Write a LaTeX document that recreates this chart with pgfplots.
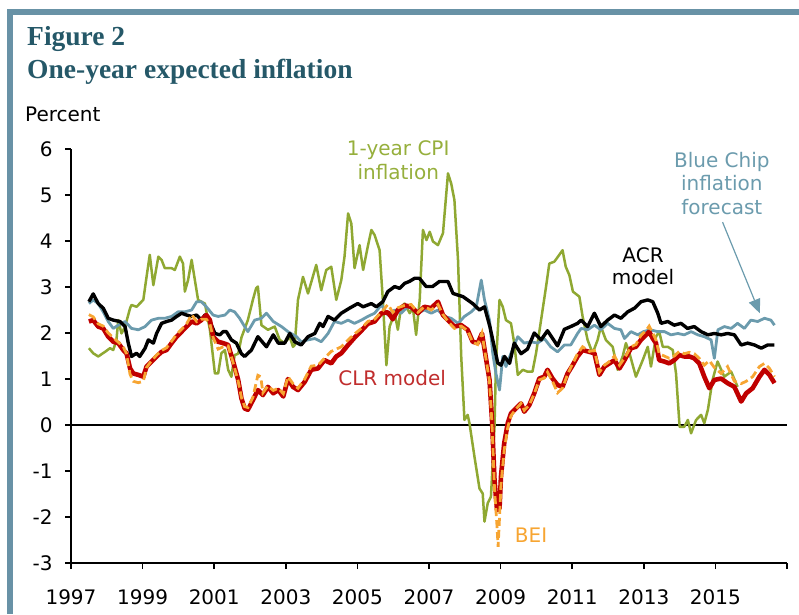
\documentclass[border=0pt]{standalone}
\usepackage{fontspec}
\usepackage{pgfplots}
\pgfplotsset{compat=1.18}
\usetikzlibrary{arrows.meta}
\setmainfont{DejaVu Sans}
\newfontfamily\titlefont{Liberation Serif}
\definecolor{framecol}{RGB}{104,146,166}
\definecolor{titlecol}{RGB}{37,88,104}
\definecolor{cpicol}{RGB}{143,168,50}
\definecolor{cpitext}{RGB}{150,175,60}
\definecolor{bccol}{RGB}{107,155,173}
\definecolor{clrcol}{RGB}{192,0,0}
\definecolor{clrtext}{RGB}{192,45,45}
\definecolor{beicol}{RGB}{247,165,50}

\pgfplotstableread{
year val
1997.50 2.68
1997.62 2.85
1997.76 2.64
1997.90 2.54
1998.04 2.32
1998.18 2.28
1998.37 2.25
1998.51 2.14
1998.60 1.78
1998.69 1.49
1998.83 1.56
1998.92 1.49
1999.07 1.67
1999.16 1.85
1999.30 1.78
1999.39 1.99
1999.53 2.21
1999.67 2.25
1999.81 2.28
1999.95 2.36
2000.09 2.43
2000.23 2.39
2000.37 2.36
2000.51 2.39
2000.64 2.28
2000.74 2.39
2000.88 2.25
2001.02 1.99
2001.16 1.96
2001.25 2.03
2001.34 2.03
2001.48 1.85
2001.62 1.78
2001.76 1.55
2001.85 1.49
2002.04 1.63
2002.22 1.92
2002.46 1.70
2002.65 1.96
2002.79 1.78
2002.97 1.78
2003.11 1.99
2003.25 1.81
2003.43 1.74
2003.62 1.92
2003.81 1.99
2003.95 2.21
2004.04 2.14
2004.18 2.36
2004.36 2.28
2004.55 2.43
2004.78 2.54
2005.01 2.64
2005.16 2.57
2005.39 2.64
2005.53 2.57
2005.71 2.68
2005.85 2.90
2006.04 3.01
2006.18 2.97
2006.32 3.08
2006.45 3.12
2006.60 3.19
2006.73 3.19
2006.92 3.01
2007.10 3.01
2007.29 3.12
2007.53 3.12
2007.67 2.86
2007.95 2.79
2008.22 2.64
2008.41 2.50
2008.55 2.57
2008.70 2.14
2008.85 1.60
2008.92 1.35
2009.01 1.30
2009.11 1.49
2009.25 1.34
2009.38 1.78
2009.57 1.55
2009.75 1.65
2009.94 2.00
2010.13 1.85
2010.31 2.05
2010.59 1.72
2010.78 2.08
2010.96 2.14
2011.15 2.21
2011.25 2.28
2011.43 2.14
2011.62 2.43
2011.80 2.14
2011.99 2.28
2012.18 2.39
2012.36 2.32
2012.55 2.46
2012.74 2.54
2012.92 2.68
2013.11 2.72
2013.25 2.68
2013.39 2.43
2013.48 2.21
2013.67 2.25
2013.85 2.17
2014.04 2.21
2014.22 2.10
2014.41 2.14
2014.60 2.03
2014.79 1.96
2014.97 1.99
2015.16 1.96
2015.34 1.99
2015.53 1.96
2015.72 1.74
2015.90 1.78
2016.09 1.74
2016.28 1.67
2016.46 1.74
2016.65 1.74
}\acr

\pgfplotstableread{
year val
1997.50 2.64
1997.62 2.72
1997.76 2.64
1997.90 2.46
1998.04 2.25
1998.18 2.10
1998.32 2.17
1998.51 2.25
1998.69 2.10
1998.88 2.07
1999.07 2.14
1999.25 2.28
1999.44 2.32
1999.62 2.32
1999.81 2.36
1999.99 2.46
2000.18 2.46
2000.37 2.50
2000.51 2.68
2000.64 2.68
2000.78 2.57
2000.97 2.39
2001.11 2.36
2001.30 2.39
2001.44 2.50
2001.57 2.46
2001.71 2.32
2001.85 2.14
2001.94 2.03
2002.13 2.28
2002.32 2.32
2002.46 2.43
2002.65 2.25
2002.88 2.14
2003.06 2.03
2003.30 1.92
2003.43 1.81
2003.62 1.85
2003.81 1.88
2003.99 1.81
2004.18 1.99
2004.36 2.25
2004.55 2.21
2004.74 2.28
2004.92 2.21
2005.11 2.28
2005.29 2.36
2005.48 2.43
2005.67 2.61
2005.85 2.39
2006.04 2.50
2006.22 2.43
2006.41 2.57
2006.59 2.50
2006.69 2.43
2006.87 2.50
2007.06 2.43
2007.25 2.50
2007.43 2.36
2007.62 2.32
2007.81 2.21
2007.99 2.36
2008.18 2.46
2008.32 2.57
2008.46 3.15
2008.55 2.72
2008.69 2.28
2008.78 1.56
2008.87 1.12
2008.97 0.76
2009.06 1.49
2009.15 1.27
2009.29 1.56
2009.48 1.92
2009.66 1.78
2009.85 1.81
2010.03 1.78
2010.22 1.88
2010.40 1.70
2010.59 1.59
2010.78 1.74
2010.96 1.74
2011.15 1.99
2011.25 2.10
2011.43 2.07
2011.62 2.17
2011.80 2.07
2011.99 2.21
2012.18 2.10
2012.36 2.07
2012.46 1.88
2012.64 2.03
2012.83 1.96
2012.99 2.03
2013.18 2.07
2013.39 2.03
2013.58 2.03
2013.76 1.96
2013.95 1.99
2014.13 1.96
2014.32 2.03
2014.51 1.96
2014.69 1.92
2014.88 1.85
2014.97 1.45
2015.07 2.07
2015.25 2.14
2015.44 2.10
2015.62 2.21
2015.81 2.10
2015.99 2.28
2016.18 2.25
2016.37 2.32
2016.55 2.28
2016.65 2.17
}\bluechip

\pgfplotstableread{
year val
1997.50 1.67
1997.62 1.56
1997.76 1.49
1997.95 1.59
1998.09 1.67
1998.18 1.63
1998.27 1.85
1998.32 2.28
1998.41 1.99
1998.51 2.14
1998.65 2.54
1998.69 2.61
1998.83 2.57
1999.02 2.72
1999.11 3.22
1999.20 3.70
1999.30 3.04
1999.44 3.66
1999.53 3.59
1999.62 3.41
1999.81 3.41
1999.90 3.37
2000.04 3.66
2000.13 3.51
2000.18 2.90
2000.27 3.15
2000.37 3.59
2000.46 3.15
2000.55 2.72
2000.64 2.68
2000.74 2.64
2000.88 2.07
2001.02 1.12
2001.11 1.12
2001.20 1.56
2001.30 1.63
2001.39 1.20
2001.48 1.05
2001.57 1.52
2001.67 1.55
2001.76 1.90
2001.94 2.28
2002.08 2.72
2002.17 2.97
2002.22 3.01
2002.32 2.17
2002.50 2.07
2002.69 2.14
2002.83 1.85
2002.97 1.78
2003.11 1.92
2003.20 1.70
2003.25 1.74
2003.34 2.72
2003.48 3.22
2003.62 2.86
2003.85 3.48
2003.99 2.93
2004.13 3.37
2004.27 3.44
2004.41 2.72
2004.55 3.15
2004.64 3.66
2004.74 4.60
2004.83 4.38
2004.92 3.41
2005.06 3.91
2005.16 3.37
2005.29 3.88
2005.39 4.24
2005.48 4.13
2005.62 3.80
2005.71 2.72
2005.81 1.30
2005.90 2.14
2006.04 2.43
2006.13 2.07
2006.22 2.57
2006.32 2.64
2006.46 2.43
2006.55 2.55
2006.64 1.96
2006.74 2.72
2006.83 4.24
2006.93 4.02
2007.02 4.20
2007.11 3.99
2007.25 3.91
2007.39 4.17
2007.53 5.47
2007.62 5.25
2007.71 4.89
2007.81 3.59
2007.90 1.49
2007.99 0.11
2008.08 0.22
2008.13 0.04
2008.27 -0.69
2008.41 -1.38
2008.50 -1.49
2008.55 -2.10
2008.64 -1.70
2008.73 -1.56
2008.83 -0.04
2008.87 1.34
2008.97 2.72
2009.06 2.57
2009.15 2.28
2009.29 2.21
2009.38 1.78
2009.48 1.09
2009.62 1.20
2009.75 1.16
2009.89 1.16
2009.99 1.56
2010.13 2.28
2010.27 3.01
2010.36 3.51
2010.50 3.55
2010.64 3.70
2010.73 3.80
2010.82 3.44
2010.92 3.26
2011.02 2.90
2011.20 2.79
2011.29 2.36
2011.43 1.85
2011.57 1.56
2011.71 1.85
2011.80 2.14
2011.94 1.85
2012.13 1.70
2012.27 1.20
2012.41 1.49
2012.50 1.78
2012.60 1.56
2012.78 1.05
2012.97 1.41
2013.11 1.70
2013.20 1.27
2013.34 1.92
2013.43 2.03
2013.53 1.70
2013.67 1.70
2013.81 1.63
2013.90 1.12
2014.00 -0.04
2014.13 -0.04
2014.23 0.11
2014.32 -0.18
2014.46 0.11
2014.60 0.22
2014.69 0.04
2014.79 0.33
2014.92 0.98
2015.06 1.38
2015.25 1.05
2015.44 1.16
2015.62 0.83
}\cpi

\pgfplotstableread{
year val
1997.50 2.25
1997.62 2.28
1997.76 2.14
1997.90 2.10
1998.04 1.92
1998.18 1.81
1998.32 1.78
1998.46 1.63
1998.55 1.56
1998.65 1.23
1998.74 1.12
1998.88 1.09
1999.02 1.05
1999.11 1.27
1999.25 1.38
1999.39 1.49
1999.53 1.59
1999.67 1.63
1999.81 1.78
1999.95 1.92
2000.09 2.03
2000.23 2.14
2000.37 2.25
2000.51 2.21
2000.64 2.28
2000.78 2.39
2000.88 2.28
2000.97 1.92
2001.11 1.81
2001.25 1.78
2001.39 1.74
2001.53 1.38
2001.67 0.98
2001.76 0.58
2001.85 0.36
2001.94 0.33
2002.08 0.54
2002.22 0.76
2002.36 0.65
2002.50 0.83
2002.65 0.69
2002.79 0.76
2002.93 0.62
2003.06 1.00
2003.20 0.83
2003.34 0.76
2003.53 0.94
2003.71 1.20
2003.90 1.23
2004.08 1.41
2004.27 1.34
2004.41 1.49
2004.55 1.56
2004.74 1.74
2004.92 1.90
2005.11 2.05
2005.29 2.20
2005.48 2.25
2005.67 2.43
2005.85 2.45
2005.99 2.30
2006.13 2.50
2006.32 2.60
2006.50 2.57
2006.69 2.43
2006.87 2.57
2007.06 2.54
2007.25 2.68
2007.39 2.39
2007.53 2.28
2007.71 2.14
2007.90 2.17
2008.08 2.07
2008.22 1.81
2008.36 1.78
2008.48 1.99
2008.60 1.41
2008.69 0.98
2008.76 0.11
2008.83 -1.20
2008.90 -1.85
2008.97 -1.81
2009.01 -1.12
2009.10 -0.40
2009.20 0.04
2009.29 0.25
2009.43 0.36
2009.57 0.47
2009.66 0.29
2009.80 0.43
2009.94 0.69
2010.08 1.01
2010.22 1.05
2010.31 1.20
2010.45 1.01
2010.59 0.87
2010.73 0.83
2010.87 1.12
2010.99 1.27
2011.15 1.49
2011.29 1.63
2011.48 1.59
2011.62 1.56
2011.76 1.09
2011.90 1.27
2012.04 1.34
2012.18 1.41
2012.32 1.23
2012.46 1.41
2012.64 1.67
2012.78 1.70
2012.92 1.85
2013.06 1.96
2013.15 2.03
2013.25 1.88
2013.34 1.78
2013.43 1.41
2013.57 1.38
2013.71 1.34
2013.85 1.41
2013.99 1.52
2014.13 1.49
2014.27 1.49
2014.41 1.45
2014.55 1.34
2014.69 1.05
2014.83 0.80
2014.97 0.98
2015.16 1.01
2015.34 0.91
2015.53 0.83
2015.72 0.51
2015.86 0.69
2016.04 0.80
2016.23 1.05
2016.37 1.20
2016.51 1.09
2016.65 0.91
}\clr

\pgfplotstableread{
year val
1997.50 2.40
1997.62 2.35
1997.76 2.20
1997.90 2.15
1998.04 2.00
1998.18 1.90
1998.32 1.80
1998.46 1.70
1998.55 1.55
1998.65 1.10
1998.74 0.95
1998.88 0.92
1999.02 0.95
1999.11 1.25
1999.25 1.40
1999.39 1.52
1999.53 1.62
1999.67 1.68
1999.81 1.82
1999.95 1.97
2000.09 2.08
2000.23 2.20
2000.37 2.40
2000.51 2.25
2000.64 2.30
2000.78 2.30
2000.88 2.20
2000.97 1.90
2001.11 1.65
2001.25 1.70
2001.39 1.72
2001.53 1.35
2001.67 0.95
2001.76 0.60
2001.85 0.40
2001.94 0.38
2002.08 0.60
2002.22 1.08
2002.30 1.05
2002.36 0.70
2002.50 0.85
2002.65 0.75
2002.79 0.80
2002.93 0.68
2003.06 1.05
2003.20 0.90
2003.34 0.80
2003.53 1.00
2003.71 1.28
2003.90 1.30
2004.08 1.45
2004.27 1.60
2004.41 1.65
2004.55 1.70
2004.74 1.85
2004.92 1.98
2005.11 2.10
2005.29 2.25
2005.48 2.30
2005.67 2.45
2005.85 2.62
2005.99 2.45
2006.13 2.55
2006.32 2.60
2006.50 2.62
2006.69 2.45
2006.87 2.57
2007.06 2.50
2007.25 2.62
2007.39 2.40
2007.53 2.25
2007.71 2.10
2007.90 2.15
2008.08 2.05
2008.22 1.80
2008.36 1.75
2008.48 2.00
2008.60 1.40
2008.69 0.95
2008.76 0.00
2008.83 -1.40
2008.90 -2.20
2008.93 -2.65
2008.97 -2.00
2009.01 -1.30
2009.10 -0.55
2009.20 -0.05
2009.29 0.20
2009.43 0.35
2009.57 0.47
2009.66 0.32
2009.80 0.43
2009.94 0.68
2010.08 0.98
2010.22 1.02
2010.31 1.15
2010.45 0.95
2010.59 0.70
2010.73 0.80
2010.87 1.10
2010.99 1.30
2011.15 1.55
2011.29 1.70
2011.48 1.60
2011.62 1.62
2011.76 1.15
2011.90 1.30
2012.04 1.38
2012.18 1.50
2012.32 1.30
2012.46 1.45
2012.64 1.70
2012.78 1.75
2012.92 1.95
2013.06 2.05
2013.15 2.15
2013.25 2.00
2013.34 1.85
2013.43 1.55
2013.57 1.50
2013.71 1.45
2013.85 1.50
2013.99 1.60
2014.13 1.55
2014.27 1.58
2014.41 1.55
2014.55 1.45
2014.69 1.30
2014.83 1.40
2014.97 1.25
2015.16 1.12
2015.34 1.27
2015.53 0.95
2015.72 0.90
2015.86 0.95
2016.04 1.05
2016.23 1.27
2016.37 1.34
2016.51 1.23
2016.65 1.05
}\bei

\begin{document}
\begin{tikzpicture}[x=1pt,y=1pt]
\useasboundingbox (0,0) rectangle (799,614);
% frame
\fill[framecol] (7,0) rectangle (13,605);
\fill[framecol] (7,599) rectangle (799,605);
% titles
\node[anchor=base west, inner sep=0, text=titlecol, font=\titlefont\bfseries\fontsize{27.5}{30}\selectfont] at (27,568) {Figure 2};
\node[anchor=base west, inner sep=0, text=titlecol, font=\titlefont\bfseries\fontsize{27.5}{30}\selectfont] at (27,535) {One-year expected inflation};
\node[anchor=base west, inner sep=0, font=\fontsize{20}{24}\selectfont] at (25,492) {Percent};

\begin{axis}[
  at={(71pt,51pt)}, anchor=south west,
  scale only axis, width=716pt, height=414pt,
  xmin=1997, xmax=2017, ymin=-3, ymax=6,
  axis x line*=bottom, axis y line*=left,
  x axis line style={line width=2.4pt},
  y axis line style={line width=2pt},
  xtick={1997,1999,...,2017},
  xticklabels={1997,1999,2001,2003,2005,2007,2009,2011,2013,2015,{}},
  ytick={-3,-2,...,6},
  yticklabels={-3,-2,-1,0,1,2,3,4,5,6},
  tick align=outside, major tick length=6pt,
  tick style={black, line width=1.5pt},
  ticklabel style={font=\fontsize{20}{24}\selectfont},
  xticklabel style={yshift=-17pt},
  yticklabel style={xshift=-9pt},
  clip=false,
]
\draw[line width=2pt] (axis cs:1997,0) -- (axis cs:2017,0);
\addplot[cpicol, line width=2.5pt, line join=round] table {\cpi};
\addplot[bccol, line width=2.8pt, line join=round] table {\bluechip};
\addplot[black, line width=3.4pt, line join=round] table {\acr};
\addplot[clrcol, line width=4.6pt, line join=round] table {\clr};
\addplot[beicol, line width=2.8pt, dash pattern=on 8pt off 4pt] table {\bei};

\node[align=center, text=cpitext, font=\fontsize{20}{24}\selectfont] at (axis cs:2006.14,5.76) {1-year CPI\\inflation};
\node[align=center, text=black, font=\fontsize{20}{22}\selectfont] at (axis cs:2012.98,3.46) {ACR\\model};
\node[align=center, text=bccol, font=\fontsize{20}{23.5}\selectfont] at (axis cs:2015.18,5.26) {Blue Chip\\inflation\\forecast};
\node[text=clrtext, font=\fontsize{20}{24}\selectfont] at (axis cs:2005.97,1.02) {CLR model};
\node[text=beicol, font=\fontsize{20}{24}\selectfont] at (axis cs:2009.85,-2.39) {BEI};
\draw[bccol, line width=1.2pt, -{Triangle[length=14pt,width=12pt]}] (axis cs:2015.2,4.41) -- (axis cs:2016.24,2.43);
\end{axis}
\end{tikzpicture}
\end{document}
